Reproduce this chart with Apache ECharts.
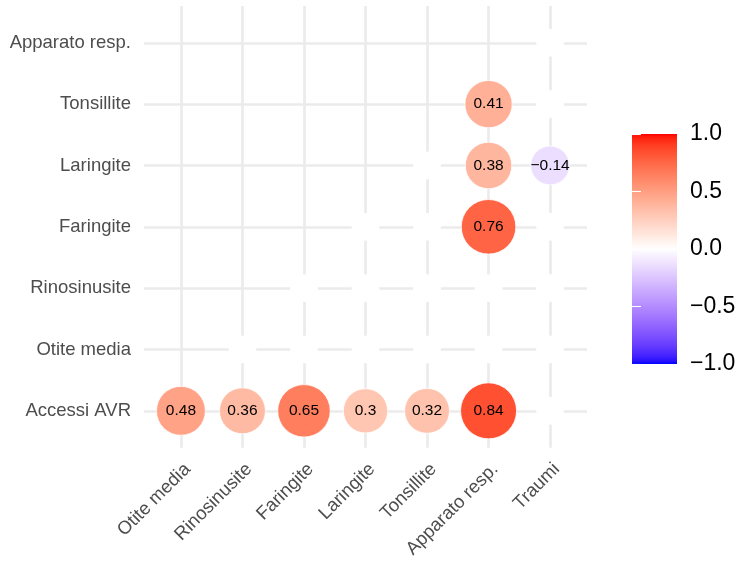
<!DOCTYPE html>
<html>
<head>
<meta charset="utf-8">
<script src="https://cdn.jsdelivr.net/npm/echarts@6/dist/echarts.min.js"></script>
<style>
  html, body { margin: 0; padding: 0; background: #ffffff; }
  #chart { width: 739px; height: 561px; }
</style>
</head>
<body>
<div id="chart"></div>
<script>
// Variables on each axis
const xVars = ['Otite media', 'Rinosinusite', 'Faringite', 'Laringite', 'Tonsillite', 'Apparato resp.', 'Traumi'];
const yVars = ['Accessi AVR', 'Otite media', 'Rinosinusite', 'Faringite', 'Laringite', 'Tonsillite', 'Apparato resp.'];

// Correlations per row, aligned with xVars.
// null = cell outside the triangle, 0 = non-significant pair (drawn blank)
const accessiAVR   = [0.48, 0.36, 0.65, 0.30, 0.32, 0.84, 0];
const otiteMedia   = [null, 0, 0, 0, 0, 0, 0];
const rinosinusite = [null, null, 0, 0, 0, 0, 0];
const faringite    = [null, null, null, 0, 0, 0.76, 0];
const laringite    = [null, null, null, null, 0, 0.38, -0.14];
const tonsillite   = [null, null, null, null, null, 0.41, 0];
const apparatoResp = [null, null, null, null, null, null, 0];

// Colour bar breaks
const legendBreaks = [-1, -0.5, 0, 0.5, 1];

const rows = [accessiAVR, otiteMedia, rinosinusite, faringite, laringite, tonsillite, apparatoResp];
const cells = [];
rows.forEach((row, j) => row.forEach((v, i) => { if (v !== null) cells.push([i, j, v]); }));
const maxAbs = Math.max(...cells.map(c => Math.abs(c[2])));

// ---- diverging blue-white-red scale, interpolated in CIELAB ----
const WHITE_REF = [0.95047, 1.0, 1.08883];
function toLin(c) { c /= 255; return c <= 0.04045 ? c / 12.92 : Math.pow((c + 0.055) / 1.055, 2.4); }
function toSrgb(c) { c = Math.min(1, Math.max(0, c)); return c <= 0.0031308 ? 12.92 * c : 1.055 * Math.pow(c, 1 / 2.4) - 0.055; }
function rgbToLab(rgb) {
  const [r, g, b] = rgb.map(toLin);
  const X = (0.4124 * r + 0.3576 * g + 0.1805 * b) / WHITE_REF[0];
  const Y = (0.2126 * r + 0.7152 * g + 0.0722 * b) / WHITE_REF[1];
  const Z = (0.0193 * r + 0.1192 * g + 0.9505 * b) / WHITE_REF[2];
  const f = t => t > 0.008856 ? Math.cbrt(t) : 7.787 * t + 16 / 116;
  const fx = f(X), fy = f(Y), fz = f(Z);
  return [116 * fy - 16, 500 * (fx - fy), 200 * (fy - fz)];
}
function labToRgb(lab) {
  const fy = (lab[0] + 16) / 116, fx = fy + lab[1] / 500, fz = fy - lab[2] / 200;
  const finv = t => t > 0.206893 ? t * t * t : (t - 16 / 116) / 7.787;
  const X = finv(fx) * WHITE_REF[0], Y = finv(fy) * WHITE_REF[1], Z = finv(fz) * WHITE_REF[2];
  const r = 3.2406 * X - 1.5372 * Y - 0.4986 * Z;
  const g = -0.9689 * X + 1.8758 * Y + 0.0415 * Z;
  const b = 0.0557 * X - 0.2040 * Y + 1.0570 * Z;
  return [r, g, b].map(c => Math.round(toSrgb(c) * 255));
}
const LAB_LOW = rgbToLab([0, 0, 255]);
const LAB_MID = rgbToLab([255, 255, 255]);
const LAB_HIGH = rgbToLab([255, 0, 0]);
function divColor(v) {
  const t = Math.min(1, Math.abs(v));
  const end = v < 0 ? LAB_LOW : LAB_HIGH;
  const lab = LAB_MID.map((m, k) => m + (end[k] - m) * t);
  const [r, g, b] = labToRgb(lab);
  return `rgb(${r},${g},${b})`;
}
const barStops = [];
for (let k = 0; k <= 80; k++) {
  const v = 1 - k / 40;
  barStops.push({ offset: k / 80, color: divColor(v) });
}

const minus = '\u2212';
const fmtCell = v => (v < 0 ? minus : '') + String(Math.abs(v));
const fmtBreak = v => (v < 0 ? minus : '') + Math.abs(v).toFixed(1);
const FONT = "'Liberation Sans', Arial, Helvetica, sans-serif";
const GRID_COLOR = '#EBEBEB';
const AXIS_TEXT = '#4D4D4D';

const chart = echarts.init(document.getElementById('chart'), null, { renderer: 'canvas' });
chart.setOption({
  animation: false,
  backgroundColor: '#ffffff',
  textStyle: { fontFamily: FONT },
  grid: [
    { left: 144, top: 6, width: 443, height: 443, containLabel: false },
    { left: 632, top: 134, width: 45, height: 230, containLabel: false }
  ],
  xAxis: [
    {
      gridIndex: 0, type: 'value', min: -0.6, max: 6.6,
      axisLine: { show: false }, axisTick: { show: false }, splitLine: { show: false },
      axisLabel: {
        customValues: xVars.map((_, i) => i),
        formatter: v => xVars[Math.round(v)],
        rotate: 45, align: 'right', verticalAlign: 'top', margin: 12,
        fontSize: 18.5, color: AXIS_TEXT, fontFamily: FONT
      }
    },
    { gridIndex: 1, type: 'value', min: 0, max: 1, show: false }
  ],
  yAxis: [
    {
      gridIndex: 0, type: 'value', min: -0.6, max: 6.6,
      axisLine: { show: false }, axisTick: { show: false }, splitLine: { show: false },
      axisLabel: {
        customValues: yVars.map((_, j) => j),
        formatter: v => yVars[Math.round(v)],
        margin: 13, fontSize: 18.5, color: AXIS_TEXT, fontFamily: FONT
      }
    },
    {
      gridIndex: 1, type: 'value', min: -1, max: 1, interval: 0.5, position: 'right', z: 5,
      axisLine: { show: false }, splitLine: { show: false },
      axisTick: { show: true, inside: true, length: 9, lineStyle: { color: '#ffffff', width: 1.1 } },
      axisLabel: { margin: 13, fontSize: 23, color: '#000000', fontFamily: FONT, formatter: fmtBreak }
    },
    {
      gridIndex: 1, type: 'value', min: -1, max: 1, interval: 0.5, position: 'left', z: 5,
      axisLine: { show: false }, splitLine: { show: false },
      axisTick: { show: true, inside: true, length: 9, lineStyle: { color: '#ffffff', width: 1.1 } },
      axisLabel: { show: false }
    }
  ],
  series: [
    {
      // panel grid lines through each variable
      type: 'scatter', xAxisIndex: 0, yAxisIndex: 0, data: [], silent: true, z: 1,
      markLine: {
        z: 1, silent: true, symbol: ['none', 'none'], animation: false,
        label: { show: false },
        lineStyle: { color: GRID_COLOR, width: 2.7, type: 'solid' },
        emphasis: { disabled: true },
        data: [
          ...xVars.map((_, i) => ({ xAxis: i })),
          ...yVars.map((_, j) => ({ yAxis: j }))
        ]
      }
    },
    {
      // correlation circles
      type: 'scatter', xAxisIndex: 0, yAxisIndex: 0, z: 10,
      data: cells,
      symbol: 'circle',
      symbolSize: d => 27 + 29 * Math.sqrt(Math.abs(d[2]) / maxAbs),
      itemStyle: { color: p => divColor(p.value[2]), borderColor: '#ffffff', borderWidth: 0.8, opacity: 1 },
      label: {
        show: true, position: 'inside',
        formatter: p => p.value[2] === 0 ? '' : fmtCell(p.value[2]),
        color: '#000000', fontSize: 15.5, fontFamily: FONT
      },
      emphasis: { disabled: true }
    },
    {
      // colour bar
      type: 'custom', xAxisIndex: 1, yAxisIndex: 1, z: 2, silent: true,
      data: [[0, 0]],
      renderItem: (params, api) => {
        const tl = api.coord([0, legendBreaks[legendBreaks.length - 1]]);
        const br = api.coord([1, legendBreaks[0]]);
        return {
          type: 'rect',
          shape: { x: tl[0], y: tl[1], width: br[0] - tl[0], height: br[1] - tl[1] },
          style: { fill: new echarts.graphic.LinearGradient(0, 0, 0, 1, barStops) }
        };
      }
    }
  ]
});
</script>
</body>
</html>
